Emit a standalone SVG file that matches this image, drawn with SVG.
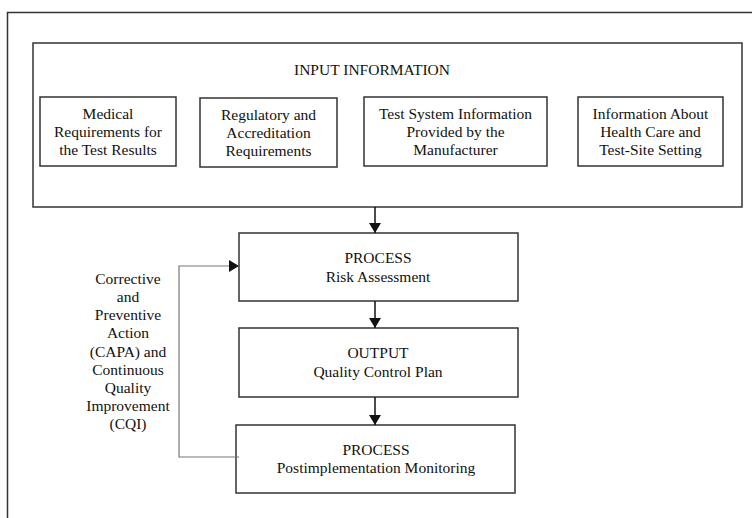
<svg xmlns="http://www.w3.org/2000/svg" width="752" height="518" viewBox="0 0 752 518">
<style>
.box{fill:#fff;stroke:#333;stroke-width:1.5}
.t{font-family:"Liberation Serif","Times New Roman",serif;font-size:15.5px;fill:#111;text-anchor:middle}
.c{stroke:#111;stroke-width:1.5;fill:none}
.fb{stroke:#777;stroke-width:1.2;fill:none}
</style>
<defs>
<marker id="ah" markerWidth="10" markerHeight="12" refX="10" refY="6" orient="auto" markerUnits="userSpaceOnUse">
<path d="M0,0 L10,6 L0,12 Z" fill="#111"/>
</marker>
</defs>
<rect width="752" height="518" fill="#fff"/>
<rect x="7.5" y="12.5" width="800" height="600" fill="none" stroke="#333" stroke-width="1.5"/>
<g id="input">
<rect class="box" x="33" y="43" width="709" height="164"/>
<text class="t" x="372" y="75">INPUT INFORMATION</text>
</g>
<g id="medical">
<rect class="box" x="40" y="97" width="136" height="69"/>
<text class="t" x="108" y="119">Medical</text>
<text class="t" x="108" y="137">Requirements for</text>
<text class="t" x="108" y="155">the Test Results</text>
</g>
<g id="regulatory">
<rect class="box" x="200" y="98" width="137" height="69"/>
<text class="t" x="268.5" y="120">Regulatory and</text>
<text class="t" x="268.5" y="138">Accreditation</text>
<text class="t" x="268.5" y="156">Requirements</text>
</g>
<g id="testsystem">
<rect class="box" x="364" y="97" width="183" height="69"/>
<text class="t" x="455.5" y="119">Test System Information</text>
<text class="t" x="455.5" y="137">Provided by the</text>
<text class="t" x="455.5" y="155">Manufacturer</text>
</g>
<g id="healthcare">
<rect class="box" x="578" y="97" width="145" height="69"/>
<text class="t" x="650.5" y="119">Information About</text>
<text class="t" x="650.5" y="137">Health Care and</text>
<text class="t" x="650.5" y="155">Test-Site Setting</text>
</g>
<g id="risk">
<rect class="box" x="239" y="233" width="279" height="68"/>
<text class="t" x="378" y="263">PROCESS</text>
<text class="t" x="378" y="282">Risk Assessment</text>
</g>
<g id="output">
<rect class="box" x="239" y="328" width="279" height="69"/>
<text class="t" x="378" y="358">OUTPUT</text>
<text class="t" x="378" y="377">Quality Control Plan</text>
</g>
<g id="monitoring">
<rect class="box" x="236" y="425" width="279" height="68"/>
<text class="t" x="376" y="455">PROCESS</text>
<text class="t" x="376" y="473">Postimplementation Monitoring</text>
</g>
<g id="capa-label">
<text class="t" x="128" y="284">Corrective</text>
<text class="t" x="128" y="302">and</text>
<text class="t" x="128" y="320">Preventive</text>
<text class="t" x="128" y="338">Action</text>
<text class="t" x="128" y="357">(CAPA) and</text>
<text class="t" x="128" y="375">Continuous</text>
<text class="t" x="128" y="393">Quality</text>
<text class="t" x="128" y="411">Improvement</text>
<text class="t" x="128" y="429">(CQI)</text>
</g>
<g id="connectors">
<line class="c" x1="375" y1="207" x2="375" y2="233" marker-end="url(#ah)"/>
<line class="c" x1="375" y1="301" x2="375" y2="328" marker-end="url(#ah)"/>
<line class="c" x1="375" y1="397" x2="375" y2="425" marker-end="url(#ah)"/>
<polyline class="fb" points="239,457 179,457 179,266 239,266" marker-end="url(#ah)"/>
</g>
</svg>
